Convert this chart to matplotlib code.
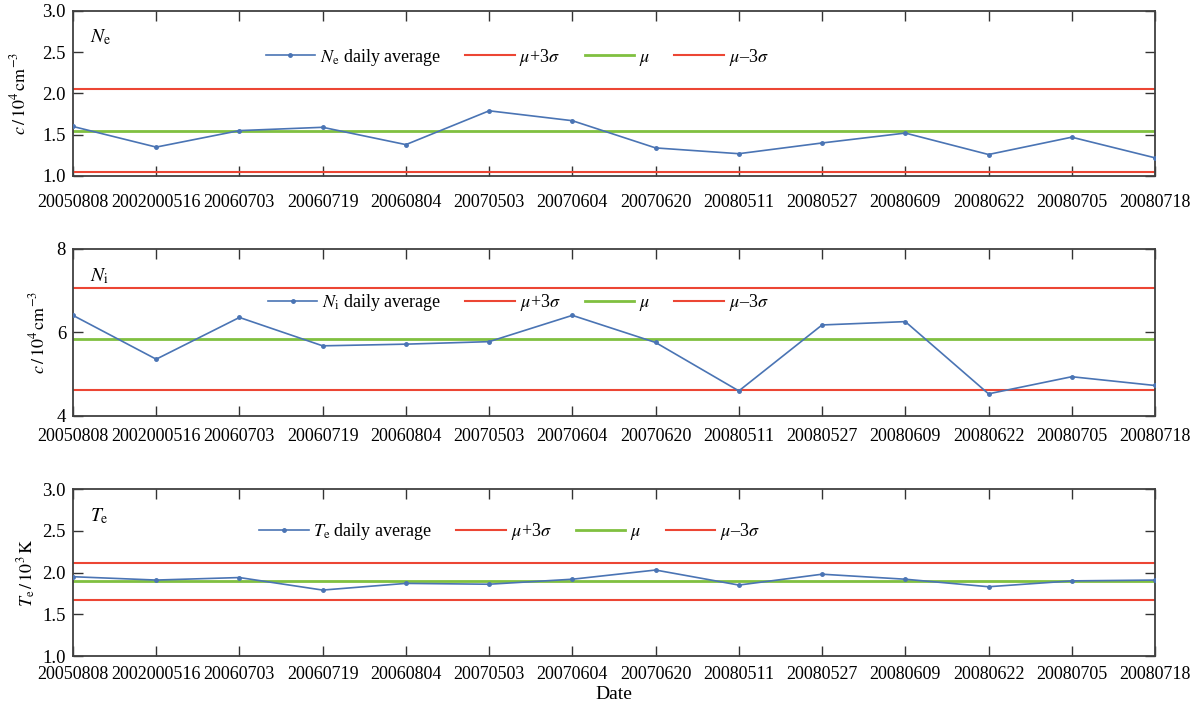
import numpy as np
import matplotlib
matplotlib.use('Agg')
import matplotlib.pyplot as plt

plt.rcParams['font.family'] = ['Liberation Serif', 'DejaVu Serif']
plt.rcParams['mathtext.fontset'] = 'stix'

dates = ['20050808', '2002000516', '20060703', '20060719', '20060804', '20070503', '20070604',
         '20070620', '20080511', '20080527', '20080609', '20080622', '20080705', '20080718']

ne_vals = [1.60, 1.35, 1.55, 1.59, 1.38, 1.79, 1.67, 1.34, 1.27, 1.40, 1.52, 1.26, 1.47, 1.22]
ne_mu, ne_up, ne_lo = 1.55, 2.05, 1.05

ni_vals = [6.41, 5.36, 6.36, 5.68, 5.72, 5.78, 6.41, 5.76, 4.60, 6.18, 6.26, 4.53, 4.94, 4.73]
ni_mu, ni_up, ni_lo = 5.85, 7.07, 4.62

te_vals = [1.95, 1.91, 1.94, 1.79, 1.87, 1.86, 1.92, 2.03, 1.85, 1.98, 1.92, 1.83, 1.90, 1.91]
te_mu, te_up, te_lo = 1.90, 2.12, 1.67

blue = '#4a74b4'
red = '#ec4634'
green = '#80c040'

fig = plt.figure(figsize=(12, 7.13), dpi=100)

panels = [
    # rect, values, mu, up, lo, ylim, yticks, yticklabels, ylabel, tag, legend xy, label x, x pad
    ([0.0608, 0.7532, 0.9017, 0.2314], ne_vals, ne_mu, ne_up, ne_lo, (1.0, 3.0),
     [1.0, 1.5, 2.0, 2.5, 3.0], ['1.0', '1.5', '2.0', '2.5', '3.0'],
     r'$c\,/\,10^4\,\mathrm{cm}^{-3}$', r'$N_\mathrm{e}$', (0.178, 0.72), -0.040, 13),
    ([0.0608, 0.4166, 0.9017, 0.2342], ni_vals, ni_mu, ni_up, ni_lo, (4, 8),
     [4, 6, 8], ['4', '6', '8'],
     r'$c\,/\,10^4\,\mathrm{cm}^{-3}$', r'$N_\mathrm{i}$', (0.180, 0.68), -0.023, 9),
    ([0.0608, 0.0799, 0.9017, 0.2342], te_vals, te_mu, te_up, te_lo, (1.0, 3.0),
     [1.0, 1.5, 2.0, 2.5, 3.0], ['1.0', '1.5', '2.0', '2.5', '3.0'],
     r'$T_\mathrm{e}\,/\,10^3\,\mathrm{K}$', r'$T_\mathrm{e}$', (0.172, 0.745), -0.032, 7),
]

x = np.arange(len(dates))
for rect, vals, mu, up, lo, ylim, yt, ytl, ylab, tag, lxy, labx, xpad in panels:
    ax = fig.add_axes(rect)
    ax.plot(x, vals, '-', color=blue, lw=1.2, marker='o', ms=2.5,
            label=tag + ' daily average', zorder=3)
    ax.axhline(up, color=red, lw=1.5, label=r'$\mu$+3$\sigma$')
    ax.axhline(mu, color=green, lw=2, label=r'$\mu$')
    ax.axhline(lo, color=red, lw=1.5, label=r'$\mu$–3$\sigma$')
    ax.set_xlim(0, len(dates) - 1)
    ax.set_ylim(*ylim)
    ax.set_xticks(x)
    ax.set_xticklabels(dates, fontsize=13)
    ax.set_yticks(yt)
    ax.set_yticklabels(ytl, fontsize=13.5)
    ax.set_ylabel(ylab, fontsize=13)
    ax.yaxis.set_label_coords(labx, 0.5)
    ax.tick_params(direction='in', length=7, top=True, right=True, width=1, color='#333333')
    ax.tick_params(axis='x', pad=xpad)
    ax.tick_params(axis='y', pad=5)
    for s in ax.spines.values():
        s.set_color('#404040')
        s.set_linewidth(1.3)
    ax.text(0.016, 0.84, tag, transform=ax.transAxes, fontsize=14, va='center', ha='left')
    ax.legend(loc='center left', bbox_to_anchor=lxy, ncol=4, frameon=False,
              fontsize=13, handlelength=2.75, columnspacing=1.35, handletextpad=0.25,
              borderaxespad=0, borderpad=0)

ax.set_xlabel('Date', fontsize=14, labelpad=2)

fig.savefig('out.png', dpi=100)
